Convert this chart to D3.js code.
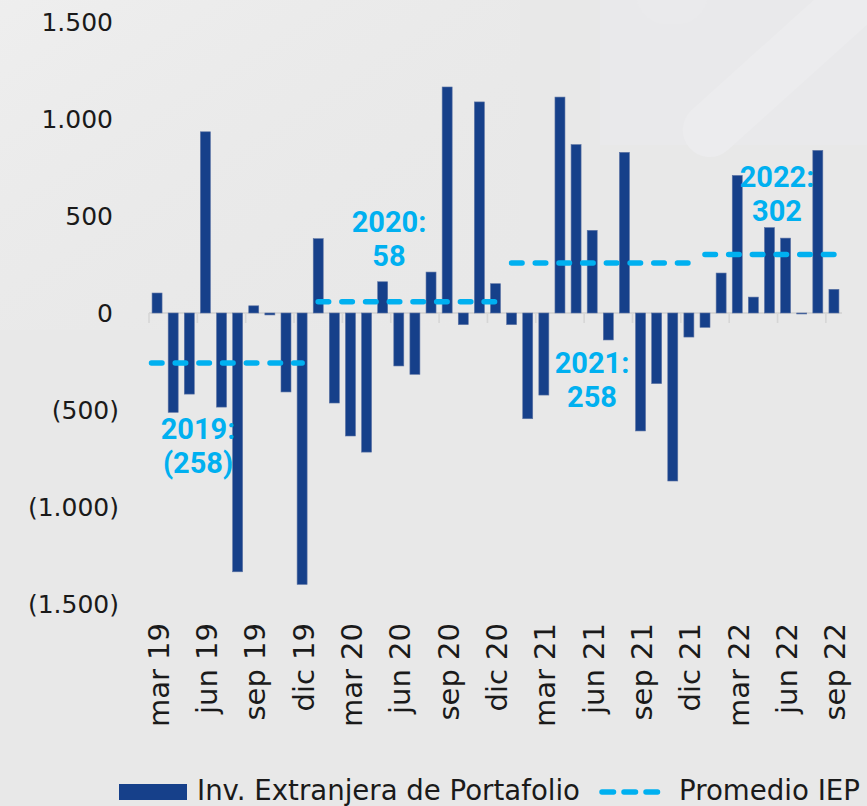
<!DOCTYPE html>
<html>
<head>
<meta charset="utf-8">
<script src="https://cdn.jsdelivr.net/npm/d3@7"></script>
<style>
  html, body { margin: 0; padding: 0; background: #e8e8e8; }
  svg { display: block; }
  .lab { font-family: "DejaVu Sans", "Noto Sans", sans-serif; fill: #1a1a1a; }
  .ann { font-family: Roboto, "Noto Sans", sans-serif; font-weight: bold; }
</style>
</head>
<body>
<svg id="chart" width="867" height="806"></svg>
<script>
// ---------- DATA ----------
const months = ["mar 19","abr 19","may 19","jun 19","jul 19","ago 19","sep 19","oct 19","nov 19","dic 19",
  "ene 20","feb 20","mar 20","abr 20","may 20","jun 20","jul 20","ago 20","sep 20","oct 20","nov 20","dic 20",
  "ene 21","feb 21","mar 21","abr 21","may 21","jun 21","jul 21","ago 21","sep 21","oct 21","nov 21","dic 21",
  "ene 22","feb 22","mar 22","abr 22","may 22","jun 22","jul 22","ago 22","sep 22"];
const values = [103,-512,-418,934,-485,-1334,37,-10,-407,-1399,
  383,-464,-634,-717,161,-273,-316,211,1165,-60,1088,151,
  -60,-545,-423,1113,868,426,-139,828,-608,-364,-866,-124,
  -74,206,709,82,440,386,-5,838,122];
const tickLabels = ["mar 19","jun 19","sep 19","dic 19","mar 20","jun 20","sep 20","dic 20",
  "mar 21","jun 21","sep 21","dic 21","mar 22","jun 22","sep 22"];
const yTicks = [-1500,-1000,-500,0,500,1000,1500];
const avgYears = ["2019","2020","2021","2022"];
const avgValues = [-258, 58, 258, 302];
const avgFrom = ["mar 19","ene 20","ene 21","ene 22"];
const avgTo = ["dic 19","dic 20","dic 21","sep 22"];
const seriesNames = ["Inv. Extranjera de Portafolio", "Promedio IEP"];

// ---------- STYLE ----------
const barColor = "#16408a";
const avgColor = "#00b0f0";
const svg = d3.select("#chart");

// background
svg.append("rect").attr("width", 867).attr("height", 806).attr("fill", "#e8e8e8");
const defs = svg.append("defs");
const lg = defs.append("linearGradient").attr("id", "tl").attr("x1", 0).attr("y1", 0).attr("x2", 1).attr("y2", 1);
lg.append("stop").attr("offset", "0%").attr("stop-color", "#efefef").attr("stop-opacity", 0.9);
lg.append("stop").attr("offset", "100%").attr("stop-color", "#e8e8e8").attr("stop-opacity", 0);
svg.append("rect").attr("x", 0).attr("y", 0).attr("width", 520).attr("height", 330).attr("fill", "url(#tl)");
svg.append("rect").attr("x", 600).attr("y", 0).attr("width", 267).attr("height", 145).attr("fill", "#e9e9eb");
svg.append("rect").attr("x", -30).attr("y", -27).attr("width", 300).attr("height", 54).attr("rx", 27)
  .attr("fill", "#ececee").attr("transform", "translate(712,128) rotate(-42)");
svg.append("rect").attr("x", -36).attr("y", -40).attr("width", 72).attr("height", 64).attr("rx", 30)
  .attr("fill", "#eaeaec").attr("transform", "translate(672,0)");

// ---------- SCALES ----------
const x = d3.scaleBand().domain(months).range([149, 842]).paddingInner(0.38).paddingOuter(0.19);
const y = d3.scaleLinear().domain([-1500, 1500]).range([604, 22]);
const step = x.step();
const bw = x.bandwidth();
const slotStart = m => x(m) - (step - bw) / 2;

// ---------- Y AXIS LABELS ----------
const fmtNum = v => d3.format(",")(Math.abs(v)).replace(/,/g, ".");
svg.append("g").selectAll("text").data(yTicks).join("text")
  .attr("class", "lab")
  .attr("x", d => d < 0 ? 119 : 113)
  .attr("y", d => y(d))
  .attr("dy", "0.36em")
  .attr("text-anchor", "end")
  .attr("font-size", 25)
  .text(d => d < 0 ? "(" + fmtNum(d) + ")" : fmtNum(d));

// ---------- ZERO AXIS ----------
const ax = svg.append("g");
ax.append("line").attr("x1", 149).attr("x2", 842).attr("y1", y(0)).attr("y2", y(0))
  .attr("stroke", "#d6d6d6").attr("stroke-width", 2);
ax.selectAll("line.tick").data(months.filter((m, i) => i % 3 === 0)).join("line")
  .attr("class", "tick")
  .attr("x1", d => slotStart(d)).attr("x2", d => slotStart(d))
  .attr("y1", y(0)).attr("y2", y(0) + 10)
  .attr("stroke", "#d6d6d6").attr("stroke-width", 1.6);

// ---------- BARS ----------
svg.append("g").selectAll("rect").data(months).join("rect")
  .attr("x", d => x(d))
  .attr("width", bw)
  .attr("y", (d, i) => y(Math.max(0, values[i])))
  .attr("height", (d, i) => Math.abs(y(values[i]) - y(0)))
  .attr("fill", barColor)
  .attr("stroke", "#5b72a3").attr("stroke-width", 0.6);

// ---------- AVERAGE LINES ----------
const dash = "10.5 13.2";
svg.append("g").selectAll("line").data(avgYears).join("line")
  .attr("x1", (d, i) => slotStart(avgFrom[i]) + (i === 0 ? 2.5 : 8))
  .attr("x2", (d, i) => slotStart(avgTo[i]) + step - 8)
  .attr("y1", (d, i) => y(avgValues[i]))
  .attr("y2", (d, i) => y(avgValues[i]))
  .attr("stroke", avgColor).attr("stroke-width", 5.5)
  .attr("stroke-linecap", "round").attr("stroke-dasharray", dash);

// ---------- AVERAGE ANNOTATIONS ----------
const fmtAvg = v => v < 0 ? "(" + Math.abs(v) + ")" : String(v);
const ann = svg.append("g").attr("class", "ann")
  .attr("font-size", 29).attr("fill", avgColor).attr("text-anchor", "middle");
const annX = [198, 389, 592, 777];
const annY = [439, 232, 373, 187];
avgYears.forEach((yr, i) => {
  const t = ann.append("text").attr("x", annX[i]).attr("y", annY[i]);
  t.append("tspan").attr("x", annX[i]).text(yr + ":");
  t.append("tspan").attr("x", annX[i]).attr("dy", 34).text(fmtAvg(avgValues[i]));
});

// ---------- X LABELS ----------
svg.append("g").selectAll("text").data(tickLabels).join("text")
  .attr("class", "lab")
  .attr("transform", d => `translate(${x(d) + bw / 2 + 1},623) rotate(-90)`)
  .attr("dy", "0.36em")
  .attr("text-anchor", "end")
  .attr("font-size", 29)
  .text(d => d);

// ---------- LEGEND ----------
const leg = svg.append("g");
leg.append("rect").attr("x", 119).attr("y", 784).attr("width", 68).attr("height", 16).attr("fill", barColor);
leg.append("text").attr("class", "lab").attr("x", 197).attr("y", 800)
  .attr("font-size", 28)
  .attr("textLength", 383).attr("lengthAdjust", "spacingAndGlyphs")
  .text(seriesNames[0]);
leg.append("line").attr("x1", 602).attr("x2", 663).attr("y1", 792).attr("y2", 792)
  .attr("stroke", avgColor).attr("stroke-width", 5.5).attr("stroke-linecap", "round")
  .attr("stroke-dasharray", "11.5 10.5");
leg.append("text").attr("class", "lab").attr("x", 679).attr("y", 800)
  .attr("font-size", 28)
  .attr("textLength", 181).attr("lengthAdjust", "spacingAndGlyphs")
  .text(seriesNames[1]);
</script>
</body>
</html>
